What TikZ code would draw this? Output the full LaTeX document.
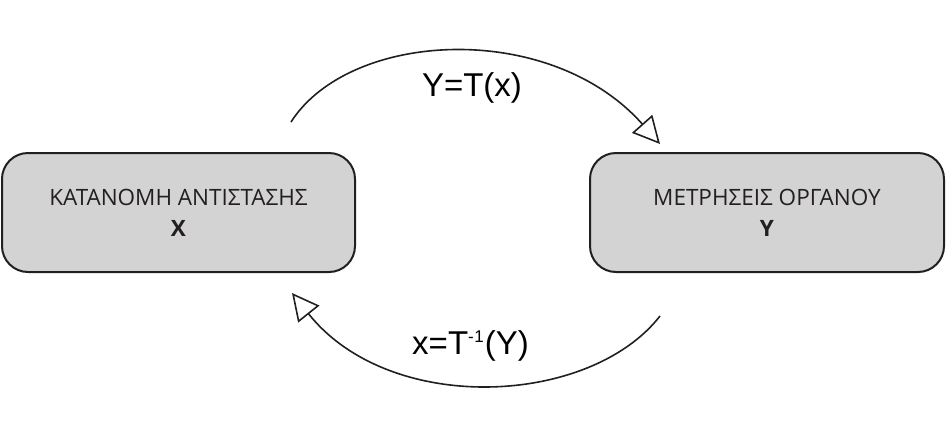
\documentclass[tikz,border=0pt]{standalone}
\usepackage{fontspec}
\setmainfont{Open Sans}
\newfontfamily\labelfont{Liberation Sans}
\usetikzlibrary{arrows.meta}
\definecolor{boxgray}{RGB}{211,211,211}
\definecolor{boxline}{RGB}{35,31,32}
\tikzset{
  box/.style={draw=boxline, line width=2pt, fill=boxgray, rounded corners=26pt},
  boxtext/.style={align=center, font=\fontsize{22.5}{31}\selectfont, text=boxline},
  arc/.style={draw=boxline, line width=1.6pt, -{Triangle[open, length=27pt, width=27pt, line width=1.6pt]}},
  lbl/.style={font=\labelfont\fontsize{33}{33}\selectfont, text=black}
}
\begin{document}
\begin{tikzpicture}[x=1pt,y=-1pt]
\useasboundingbox (0,0) rectangle (946,440);
\node[box, minimum width=353pt, minimum height=119pt] (X) at (178.5,212.5) {};
\node[boxtext] (Xt) at (X.center) {ΚΑΤΑΝΟΜΗ ΑΝΤΙΣΤΑΣΗΣ\\\textbf{Χ}};
\node[box, minimum width=354pt, minimum height=119pt] (Y) at (767,212.5) {};
\node[boxtext] (Yt) at (Y.center) {ΜΕΤΡΗΣΕΙΣ ΟΡΓΑΝΟΥ\\\textbf{Υ}};
\coordinate (a1) at (291,122);
\coordinate (a2) at (660,144);
\coordinate (b1) at (660,316);
\coordinate (b2) at (292,293);
\draw[arc] (a1) .. controls (350,30) and (550,20) .. (a2);
\draw[arc] (b1) .. controls (590,406) and (390,416) .. (b2);
\node[lbl] (T) at (472,88) {Y=T(x)};
\node[lbl] (Ti) at (470.5,346) {x=T\raisebox{12pt}{\fontsize{17}{17}\selectfont -\kern0.5pt 1}\kern1pt(Y)};
\end{tikzpicture}
\end{document}
